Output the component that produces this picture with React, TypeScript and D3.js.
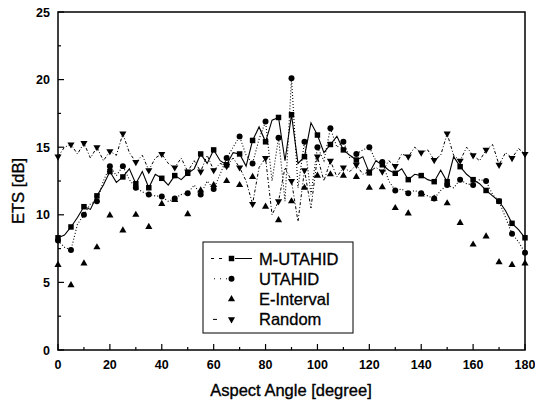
import React from "react";
import * as d3 from "d3";

const xTicks = [0, 20, 40, 60, 80, 100, 120, 140, 160, 180];
const yTicks = [0, 5, 10, 15, 20, 25];

const lineAngles = [
  0, 2.5, 5, 7.5, 10, 12.5, 15, 17.5, 20, 22.5, 25, 27.5, 30, 32.5, 35, 37.5, 40, 42.5, 45, 47.5,
  50, 52.5, 55, 57.5, 60, 62.5, 65, 67.5, 70, 72.5, 75, 77.5, 80, 82.5, 85, 87.5, 90, 92.5, 95, 97.5,
  100, 102.5, 105, 107.5, 110, 112.5, 115, 117.5, 120, 122.5, 125, 127.5, 130, 132.5, 135, 137.5,
  140, 142.5, 145, 147.5, 150, 152.5, 155, 157.5, 160, 162.5, 165, 167.5, 170, 172.5, 175, 177.5, 180,
];

const markerAngles = [
  0, 5, 10, 15, 20, 25, 30, 35, 40, 45, 50, 55, 60, 65, 70, 75, 80, 85, 90, 95, 100, 105, 110, 115,
  120, 125, 130, 135, 140, 145, 150, 155, 160, 165, 170, 175, 180,
];

const mUtahid = [
  8.3, 8.5, 9.1, 9.8, 10.6, 10.4, 11.4, 12.2, 13.2, 12.4, 12.8, 13.4, 12.3, 13.2, 12.0, 13.0, 12.7, 12.2, 12.9, 12.6,
  13.07, 13.4, 14.5, 13.8, 14.8, 14.0, 13.7, 14.6, 14.5, 13.6, 15.5, 16.5, 15.4, 17.0, 17.2, 14.0, 17.4, 13.8, 14.3, 16.8,
  15.9, 14.6, 15.2, 15.8, 14.8, 14.4, 14.05, 14.3, 13.1, 14.0, 13.7, 13.3, 13.07, 13.4, 12.6, 13.0,
  12.9, 12.6, 12.45, 13.3, 12.45, 14.3, 13.56, 13.0, 12.6, 12.3, 11.8, 11.4, 11.0, 10.3, 9.37, 8.9, 8.3,
];

const utahid = [
  8.1, 7.6, 7.4, 9.3, 10.0, 10.8, 11.0, 12.5, 13.6, 12.9, 13.6, 12.6, 12.0, 11.7, 11.5, 11.4, 11.35, 11.0, 11.2, 11.5,
  11.6, 12.2, 11.5, 12.5, 11.9, 13.0, 14.2, 15.0, 15.8, 14.4, 13.8, 15.6, 16.9, 12.5, 15.7, 11.0, 20.1, 12.0, 15.4, 11.5,
  15.0, 14.0, 16.4, 15.0, 15.4, 14.2, 14.5, 14.8, 15.0, 14.0, 13.9, 12.5, 11.8, 11.9, 11.6, 11.8,
  11.6, 11.4, 11.2, 11.8, 12.2, 12.0, 12.6, 12.3, 12.2, 12.6, 12.5, 11.5, 11.0, 9.8, 8.6, 8.0, 7.2,
];

const randomSeries = [
  14.3, 15.0, 15.2, 14.5, 15.3, 14.2, 15.0, 14.0, 14.7, 14.4, 16.0, 14.6, 13.9, 14.4, 13.3, 14.2, 14.5, 13.8, 13.5, 14.2,
  13.2, 14.0, 13.2, 14.4, 13.3, 13.8, 13.6, 14.2, 13.5, 12.5, 10.8, 13.5, 14.2, 10.0, 11.0, 13.5, 12.5, 9.5, 13.3, 10.5,
  14.3, 12.5, 14.0, 12.8, 13.5, 13.2, 13.7, 13.0, 13.2, 13.5, 13.2, 14.0, 13.6, 14.5, 14.3, 15.0,
  14.6, 14.8, 14.05, 14.4, 16.0, 14.4, 14.0, 15.0, 14.4, 14.0, 14.8, 15.2, 13.7, 14.6, 14.2, 14.9, 14.5,
];

const eInterval = [
  6.3, 4.8, 6.4, 7.6, 9.95, 8.85, 10.0, 9.1, 10.8, 11.1, 10.05, 11.8, 12.2, 12.5, 12.2, 12.8, 10.6, 9.6, 11.0, 12.0,
  12.9, 13.0, 12.9, 12.8, 12.0, 12.05, 10.5, 10.1, 11.5, 11.2, 10.85, 9.4, 7.8, 8.4, 6.5, 6.3, 6.4,
];

const legendNames = ["M-UTAHID", "UTAHID", "E-Interval", "Random"];

const W = 535;
const H = 403;
const FONT = "'Liberation Sans', Arial, Helvetica, sans-serif";

export default function App() {
  const x = d3.scaleLinear().domain([0, 180]).range([58, 525]);
  const y = d3.scaleLinear().domain([0, 25]).range([350, 12]);

  const line = d3
    .line<number>()
    .x((_, i) => x(lineAngles[i]))
    .y((d) => y(d));

  const sq = d3.symbol().type(d3.symbolSquare).size(30)() as string;
  const circ = d3.symbol().type(d3.symbolCircle).size(28)() as string;
  const tri = d3.symbol().type(d3.symbolTriangle).size(22)() as string;

  const markersFromLine = (vals: number[]) =>
    vals
      .map((v, i) => ({ a: lineAngles[i], v }))
      .filter((p) => markerAngles.includes(p.a));

  const xMinor = [10, 30, 50, 70, 90, 110, 130, 150, 170];
  const yMinor = [2.5, 7.5, 12.5, 17.5, 22.5];

  const lg = { x: 203, y: 242, w: 150, h: 91 };
  const rowY = (i: number) => 258.5 + i * 20.3;
  const mx = 231.5;

  return (
    <svg
      width={W}
      height={H}
      style={{ position: "absolute", left: 0, top: 0, background: "#fff" }}
      fontFamily={FONT}
    >
      <rect x={0} y={0} width={W} height={H} fill="#fff" />

      {/* Series lines */}
      <path d={line(randomSeries) || ""} fill="none" stroke="#000" strokeWidth={1} strokeDasharray="3,2,1,2" />
      <path d={line(utahid) || ""} fill="none" stroke="#000" strokeWidth={1.1} strokeDasharray="1,2" />
      <path d={line(mUtahid) || ""} fill="none" stroke="#000" strokeWidth={1.1} />

      {/* Markers */}
      {eInterval.map((v, i) => (
        <path key={"e" + i} d={tri} transform={`translate(${x(markerAngles[i])},${y(v)})`} fill="#000" />
      ))}
      {markersFromLine(randomSeries).map((p, i) => (
        <path key={"r" + i} d={tri} transform={`translate(${x(p.a)},${y(p.v)}) rotate(180)`} fill="#000" />
      ))}
      {markersFromLine(utahid).map((p, i) => (
        <path key={"u" + i} d={circ} transform={`translate(${x(p.a)},${y(p.v)})`} fill="#000" />
      ))}
      {markersFromLine(mUtahid).map((p, i) => (
        <path key={"m" + i} d={sq} transform={`translate(${x(p.a)},${y(p.v)})`} fill="#000" />
      ))}

      {/* Frame */}
      <rect x={58} y={12} width={467} height={338} fill="none" stroke="#000" strokeWidth={1.5} />

      {/* X ticks */}
      {xTicks.map((t) => (
        <g key={"xt" + t}>
          <line x1={x(t)} x2={x(t)} y1={350} y2={344} stroke="#000" strokeWidth={1.2} />
          <text x={x(t)} y={369} textAnchor="middle" fontSize={12.5} fontWeight="bold">
            {t}
          </text>
        </g>
      ))}
      {xMinor.map((t) => (
        <line key={"xm" + t} x1={x(t)} x2={x(t)} y1={350} y2={347} stroke="#000" strokeWidth={1.2} />
      ))}

      {/* Y ticks */}
      {yTicks.map((t) => (
        <g key={"yt" + t}>
          <line x1={58} x2={64} y1={y(t)} y2={y(t)} stroke="#000" strokeWidth={1.2} />
          <text x={50} y={y(t) + 4.5} textAnchor="end" fontSize={12.5} fontWeight="bold">
            {t}
          </text>
        </g>
      ))}
      {yMinor.map((t) => (
        <line key={"ym" + t} x1={58} x2={61} y1={y(t)} y2={y(t)} stroke="#000" strokeWidth={1.2} />
      ))}

      {/* Axis titles */}
      <text x={291} y={396} textAnchor="middle" fontSize={16.5} stroke="#000" strokeWidth={0.35}>
        Aspect Angle [degree]
      </text>
      <text transform="translate(24,191) rotate(-90)" textAnchor="middle" fontSize={16.5} stroke="#000" strokeWidth={0.35}>
        ETS [dB]
      </text>

      {/* Legend */}
      <rect x={lg.x} y={lg.y} width={lg.w} height={lg.h} fill="#fff" stroke="#000" strokeWidth={1} />
      <g>
        <line x1={211} x2={227} y1={rowY(0)} y2={rowY(0)} stroke="#000" strokeWidth={1} strokeDasharray="3,5" />
        <line x1={235} x2={252} y1={rowY(0)} y2={rowY(0)} stroke="#000" strokeWidth={1} />
        <path d={sq} transform={`translate(${mx},${rowY(0)})`} fill="#000" />
        <line x1={214} x2={227} y1={rowY(1)} y2={rowY(1)} stroke="#000" strokeWidth={1} strokeDasharray="1,5" />
        <path d={circ} transform={`translate(${mx},${rowY(1)})`} fill="#000" />
        <path d={tri} transform={`translate(${mx},${rowY(2)})`} fill="#000" />
        <line x1={213} x2={217} y1={rowY(3)} y2={rowY(3)} stroke="#000" strokeWidth={1} />
        <path d={tri} transform={`translate(${mx},${rowY(3)}) rotate(180)`} fill="#000" />
        {legendNames.map((n, i) => (
          <text key={n} x={259} y={rowY(i) + 6} fontSize={16.5} stroke="#000" strokeWidth={0.3}>
            {n}
          </text>
        ))}
      </g>
    </svg>
  );
}
